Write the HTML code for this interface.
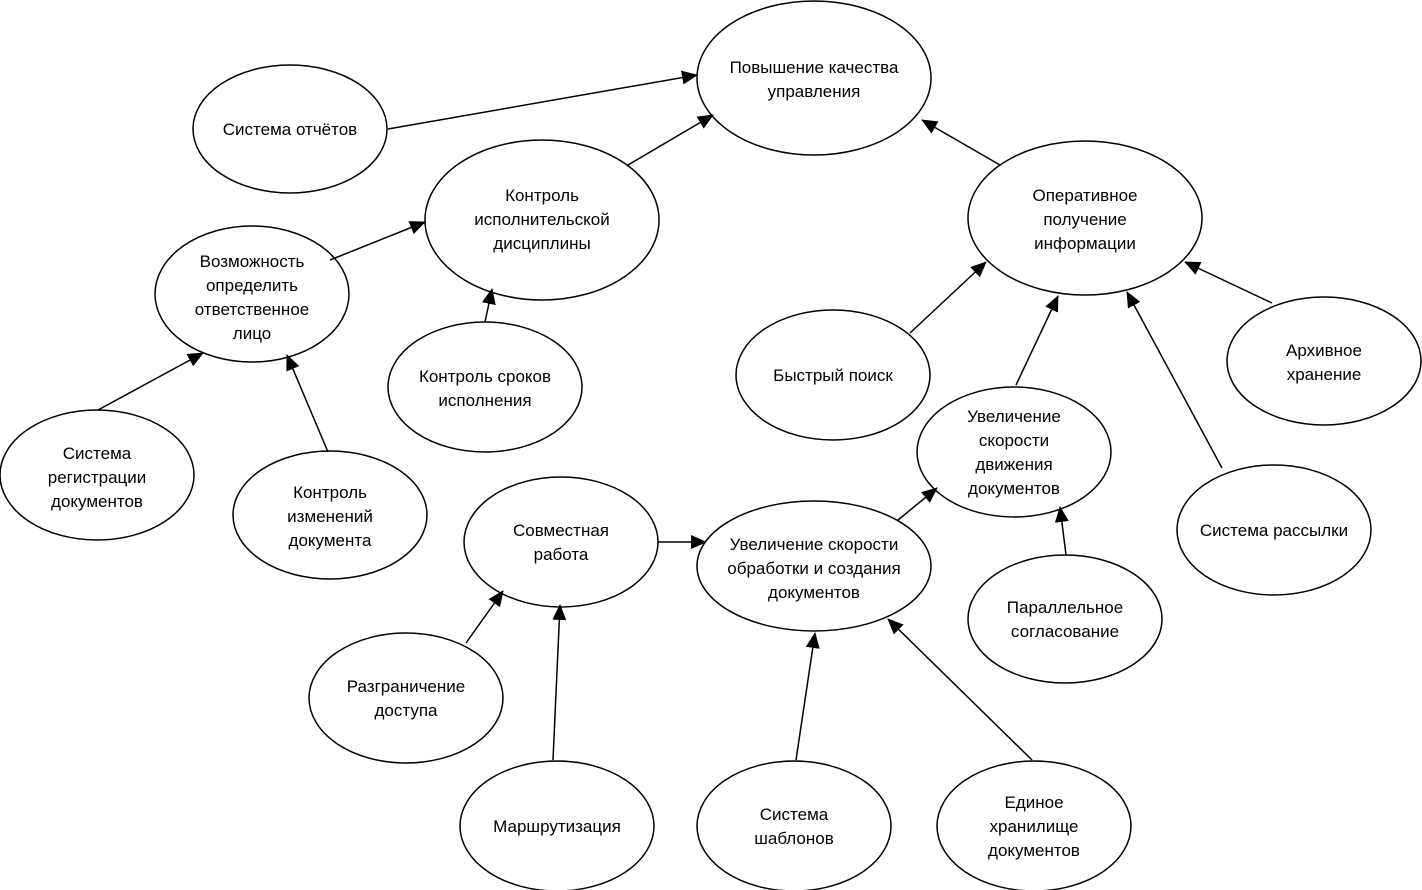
<!DOCTYPE html>
<html><head><meta charset="utf-8"><style>html,body{margin:0;padding:0;background:#fff}svg{display:block}</style></head>
<body>
<svg width="1422" height="890" viewBox="0 0 1422 890" xmlns="http://www.w3.org/2000/svg">
<defs><marker id="a" markerWidth="10" markerHeight="10" refX="9" refY="5" orient="auto" markerUnits="userSpaceOnUse" viewBox="0 0 10 10"><path d="M0,0 L10,5 L0,10 z" fill="#000"/></marker>
<marker id="b" markerWidth="16" markerHeight="14" refX="15" refY="7" orient="auto" markerUnits="userSpaceOnUse" viewBox="0 0 16 14"><path d="M0,0 L16,7 L0,14 z" fill="#000"/></marker></defs>
<g fill="#fff" stroke="#000" stroke-width="1.5">
<ellipse cx="814" cy="78" rx="117" ry="77"/>
<ellipse cx="290" cy="129" rx="97" ry="64"/>
<ellipse cx="542" cy="220" rx="117" ry="80"/>
<ellipse cx="1085" cy="218" rx="117" ry="77"/>
<ellipse cx="252" cy="294" rx="97" ry="68"/>
<ellipse cx="485" cy="387" rx="97" ry="65"/>
<ellipse cx="833" cy="375" rx="97" ry="65"/>
<ellipse cx="1324" cy="361" rx="97" ry="64"/>
<ellipse cx="1014" cy="452" rx="97" ry="65"/>
<ellipse cx="97" cy="475" rx="97" ry="65"/>
<ellipse cx="330" cy="515" rx="97" ry="64"/>
<ellipse cx="561" cy="542" rx="97" ry="65"/>
<ellipse cx="814" cy="566" rx="117" ry="65"/>
<ellipse cx="1274" cy="530" rx="97" ry="65"/>
<ellipse cx="1065" cy="619" rx="97" ry="64"/>
<ellipse cx="406" cy="698" rx="97" ry="65"/>
<ellipse cx="557" cy="826" rx="97" ry="65"/>
<ellipse cx="794" cy="826" rx="97" ry="65"/>
<ellipse cx="1034" cy="826" rx="97" ry="65"/>
</g>
<g stroke="#000" stroke-width="1.5" fill="none" marker-end="url(#b)">
<line x1="388" y1="129" x2="697" y2="75"/>
<line x1="628" y1="165" x2="713" y2="115"/>
<line x1="1000" y1="165" x2="922" y2="120"/>
<line x1="330" y1="260" x2="425" y2="222"/>
<line x1="485" y1="322" x2="492" y2="289"/>
<line x1="910" y1="333" x2="986" y2="262"/>
<line x1="1016" y1="385" x2="1058" y2="296"/>
<line x1="1272" y1="303" x2="1185" y2="262"/>
<line x1="1222" y1="468" x2="1127" y2="292"/>
<line x1="98" y1="410" x2="203" y2="353"/>
<line x1="328" y1="452" x2="287" y2="355"/>
<line x1="898" y1="520" x2="937" y2="488"/>
<line x1="1066" y1="555" x2="1060" y2="507"/>
<line x1="658" y1="542" x2="706" y2="542"/>
<line x1="466" y1="643" x2="503" y2="591"/>
<line x1="553" y1="760" x2="560" y2="605"/>
<line x1="796" y1="760" x2="815" y2="633"/>
<line x1="1032" y1="760" x2="888" y2="619"/>
</g>
<g font-family="Liberation Sans, sans-serif" font-size="17" text-anchor="middle" fill="#000">
<text x="814" y="73">Повышение качества</text><text x="814" y="97">управления</text>
<text x="290" y="135">Система отчётов</text>
<text x="542" y="201">Контроль</text><text x="542" y="225">исполнительской</text><text x="542" y="249">дисциплины</text>
<text x="1085" y="201">Оперативное</text><text x="1085" y="225">получение</text><text x="1085" y="249">информации</text>
<text x="252" y="267">Возможность</text><text x="252" y="291">определить</text><text x="252" y="315">ответственное</text><text x="252" y="339">лицо</text>
<text x="485" y="382">Контроль сроков</text><text x="485" y="406">исполнения</text>
<text x="833" y="381">Быстрый поиск</text>
<text x="1324" y="356">Архивное</text><text x="1324" y="380">хранение</text>
<text x="1014" y="422">Увеличение</text><text x="1014" y="446">скорости</text><text x="1014" y="470">движения</text><text x="1014" y="494">документов</text>
<text x="97" y="459">Система</text><text x="97" y="483">регистрации</text><text x="97" y="507">документов</text>
<text x="330" y="498">Контроль</text><text x="330" y="522">изменений</text><text x="330" y="546">документа</text>
<text x="561" y="536">Совместная</text><text x="561" y="560">работа</text>
<text x="814" y="550">Увеличение скорости</text><text x="814" y="574">обработки и создания</text><text x="814" y="598">документов</text>
<text x="1274" y="536">Система рассылки</text>
<text x="1065" y="613">Параллельное</text><text x="1065" y="637">согласование</text>
<text x="406" y="692">Разграничение</text><text x="406" y="716">доступа</text>
<text x="557" y="832">Маршрутизация</text>
<text x="794" y="820">Система</text><text x="794" y="844">шаблонов</text>
<text x="1034" y="808">Единое</text><text x="1034" y="832">хранилище</text><text x="1034" y="856">документов</text>
</g>
</svg>
</body></html>
